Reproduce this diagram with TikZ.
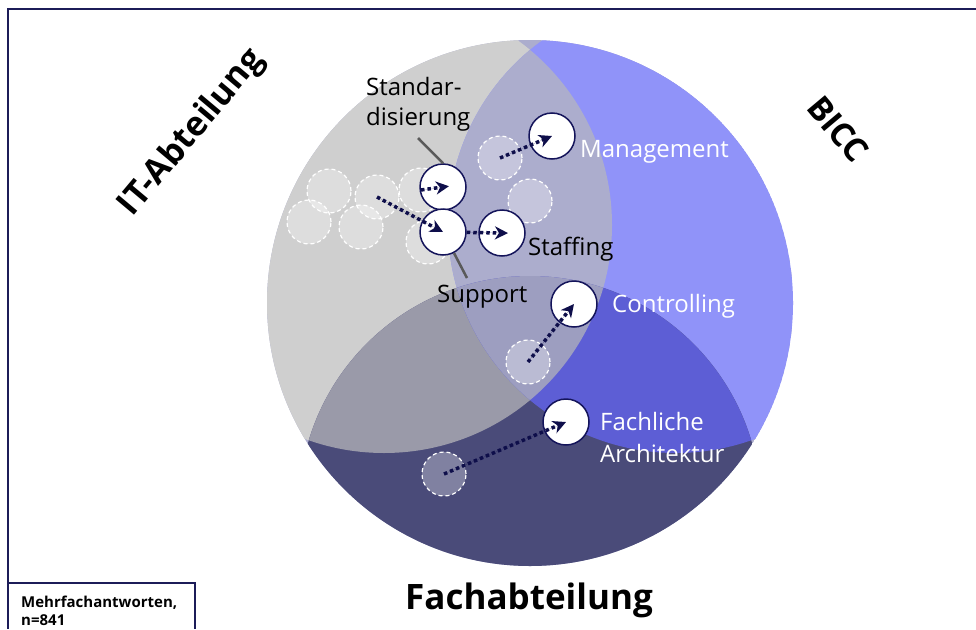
\documentclass[tikz,border=0pt]{standalone}
\usepackage{fontspec}
\setmainfont{Open Sans}
\usetikzlibrary{arrows.meta,positioning}
\definecolor{ItGray}{HTML}{CFCFCF}
\definecolor{BiccBlue}{HTML}{9093F9}
\definecolor{FachNavy}{HTML}{4A4B79}
\definecolor{ItBicc}{HTML}{ACADCD}
\definecolor{ItFach}{HTML}{9A9AA9}
\definecolor{BiccFach}{HTML}{5D5ED5}
\definecolor{AllThree}{HTML}{9D9EC0}
\definecolor{RingNavy}{HTML}{14145A}
\definecolor{ArrowNavy}{HTML}{0E0E4A}
\definecolor{LeaderGray}{HTML}{5A5A5A}
\definecolor{FrameNavy}{HTML}{1C1C58}
\newcommand{\outercircle}{(530,303) circle (263)}
\newcommand{\itcircle}{(384,225) circle (228)}
\newcommand{\bicccircle}{(676,225) circle (228)}
\newcommand{\fachcircle}{(530,507) circle (231)}

\begin{document}
\begin{tikzpicture}[
  x=1pt,
  y=-1pt,
  >={Stealth[length=13pt,width=13pt,inset=4pt]},
  ghost/.style={circle,minimum size=44pt,inner sep=0,draw=white,fill=white,
    fill opacity=0.3,draw opacity=1,line width=1.2pt,dash pattern=on 4pt off 3pt},
  area/.style={circle,minimum size=46pt,inner sep=0,draw=RingNavy,fill=white,
    line width=1.5pt},
  flow/.style={->,draw=ArrowNavy,fill=ArrowNavy,line width=3.5pt,
    dash pattern=on 3.5pt off 3pt},
  leader/.style={draw=LeaderGray,line width=2.5pt},
  txt/.style={font=\fontsize{24}{28}\selectfont,anchor=base west,inner sep=0},
  light txt/.style={txt,text=white},
  team/.style={font=\bfseries\fontsize{33}{38}\selectfont,inner sep=0},
  frame/.style={draw=FrameNavy,line width=2pt}
]
  \useasboundingbox (0,0) rectangle (976,629);

  % the three groups
  \begin{scope}
    \clip \outercircle;
    \fill[ItBicc] \outercircle;
    \fill[ItGray] \itcircle;
    \fill[BiccBlue] \bicccircle;
    \fill[FachNavy] \fachcircle;
    \begin{scope}
      \clip \itcircle;
      \fill[ItBicc] \bicccircle;
      \fill[ItFach] \fachcircle;
    \end{scope}
    \begin{scope}
      \clip \bicccircle;
      \fill[BiccFach] \fachcircle;
    \end{scope}
    \begin{scope}
      \clip \itcircle;
      \clip \bicccircle;
      \fill[AllThree] \fachcircle;
    \end{scope}
  \end{scope}

  % former positions
  \node[ghost] (g1) at (329,191) {};
  \node[ghost] (g2) at (377,197) {};
  \node[ghost] (g3) at (421,190) {};
  \node[ghost] (g4) at (309,222) {};
  \node[ghost] (g5) at (361,227) {};
  \node[ghost] (g6) at (428,242) {};
  \node[ghost] (g7) at (500,158) {};
  \node[ghost] (g8) at (530,201) {};
  \node[ghost] (g9) at (528,362) {};
  \node[ghost] (g10) at (444,474) {};

  \coordinate (stdend) at (418,138);
  \coordinate (supend) at (467,278);

  % current positions
  \node[area] (std) at (443,187) {};
  \node[area] (sup) at (443,232) {};
  \node[area] (stf) at (502,233) {};
  \node[area] (mgt) at (552,136) {};
  \node[area] (ctl) at (574,304) {};
  \node[area] (arch) at (566,422) {};

  \draw[leader] (stdend) -- (std.north);
  \draw[leader] (supend) -- (sup);

  \draw[flow,shorten >=-6pt] (g3.center) -- (std.center);
  \draw[flow] (g2.center) -- (sup.center);
  \draw[flow,shorten >=-6pt] (sup) -- (stf.center);
  \draw[flow] (g7.center) -- (mgt.center);
  \draw[flow] (g9.center) -- (ctl.center);
  \draw[flow] (g10.center) -- (arch.center);

  \node[txt] (stdl1) at (366,95) {Standar-};
  \node[txt] (stdl2) at (366,125) {disierung};
  \node[txt] (supl) at (437,302) {Support};
  \node[txt] (stfl) at (528,255) {Staffing};
  \node[light txt] (mgtl) at (580,157) {Management};
  \node[light txt] (ctll) at (612,312) {Controlling};
  \node[light txt] (archl1) at (600,430) {Fachliche};
  \node[light txt] (archl2) at (600,462) {Architektur};

  \node[team,rotate=50,font=\bfseries\fontsize{34}{38}\selectfont] (it) at (192,133) {IT-Abteilung};
  \node[team,rotate=-50] (bicc) at (838,129) {BICC};
  \node[team,font=\bfseries\fontsize{35}{40}\selectfont,anchor=base] (fach) at (529,609) {Fachabteilung};

  \draw[frame] (976,9) -- (8,9) -- (8,629);
  \draw[frame,line width=1.5pt] (8,583) -- (195,583) -- (195,629);
  \node[txt,font=\bfseries\fontsize{15}{18}\selectfont] (note1) at (21,607) {Mehrfachantworten,};
  \node[txt,font=\bfseries\fontsize{15}{18}\selectfont] (note2) at (21,625) {n=841};
\end{tikzpicture}
\end{document}
